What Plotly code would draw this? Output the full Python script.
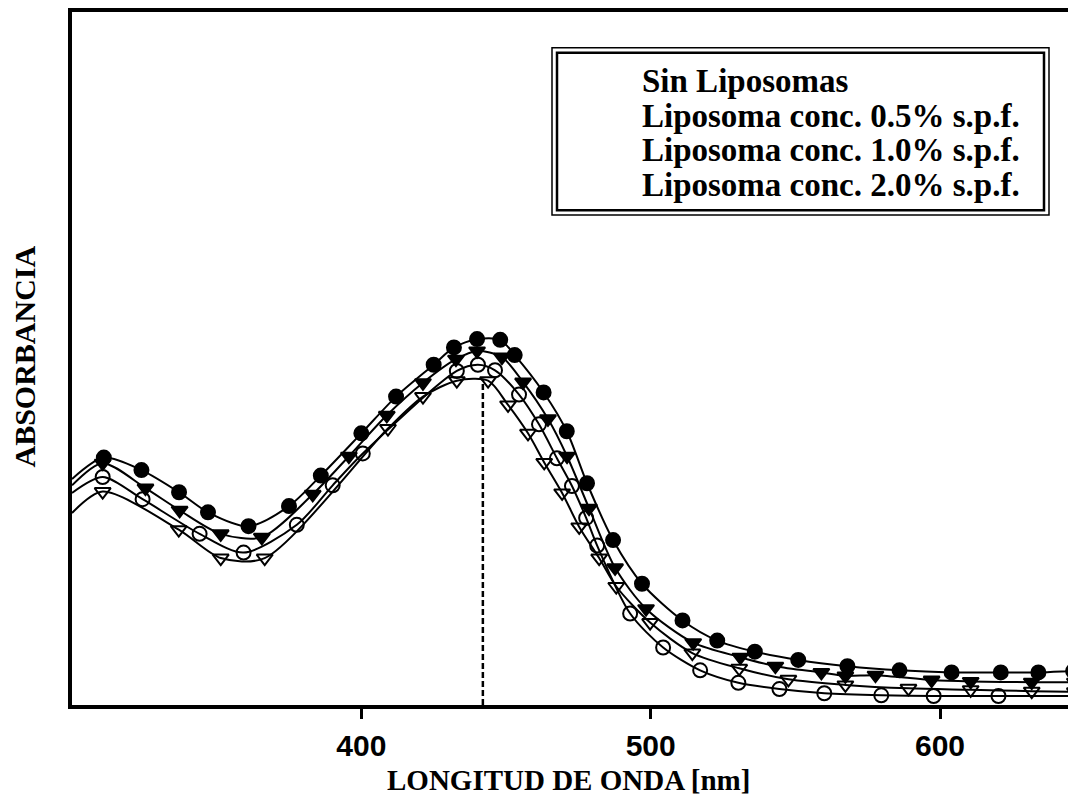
import plotly.graph_objects as go

# ---------------- data ----------------
series_names = [
    "Sin Liposomas",
    "Liposoma conc. 0.5% s.p.f.",
    "Liposoma conc. 1.0% s.p.f.",
    "Liposoma conc. 2.0% s.p.f.",
]

# curve values at the left edge of the plot (300 nm)
start_x = 300
start_y = [0.326, 0.317, 0.306, 0.277]

# Sin Liposomas (filled circles)
x_sin = [311, 324, 337, 347, 361, 375, 386, 400, 412, 425, 432, 440, 448, 453, 463,
         471, 478, 487, 497, 511, 523, 536, 551, 568, 586, 604, 621, 634, 646]
y_sin = [0.357, 0.339, 0.307, 0.278, 0.258, 0.287, 0.331, 0.392, 0.445, 0.491, 0.516,
         0.528, 0.527, 0.505, 0.451, 0.395, 0.320, 0.238, 0.175, 0.122, 0.093, 0.077,
         0.065, 0.056, 0.050, 0.047, 0.047, 0.047, 0.049]

# 0.5 % (filled down-triangles)
x_05 = [310.6, 325.4, 337.2, 351.4, 365.6, 383.2, 395.7, 408.8, 421.3, 432.7, 440.0,
        448.6, 455.9, 464.5, 471.1, 478.7, 487.7, 498.4, 514.7, 531.0, 543.1, 559.0,
        567.3, 577.7, 597.1, 610.6, 631.7, 646.6]
y_05 = [0.349, 0.313, 0.281, 0.247, 0.242, 0.304, 0.359, 0.418, 0.465, 0.499, 0.511,
        0.502, 0.466, 0.413, 0.359, 0.284, 0.198, 0.139, 0.090, 0.069, 0.056, 0.047,
        0.042, 0.043, 0.036, 0.034, 0.033, 0.033]

# 1.0 % (open circles)
x_10 = [310.6, 324.4, 344.1, 359.3, 377.7, 390.1, 400.5, 433.0, 440.3, 446.2, 454.5,
        461.4, 467.6, 472.8, 477.7, 481.5, 492.9, 504.3, 517.1, 530.3, 544.5, 560.0,
        579.7, 597.8, 620.2]
y_10 = [0.329, 0.297, 0.247, 0.220, 0.260, 0.317, 0.363, 0.482, 0.491, 0.483, 0.448,
        0.405, 0.356, 0.316, 0.270, 0.230, 0.132, 0.083, 0.050, 0.032, 0.023, 0.017,
        0.014, 0.013, 0.013]

# 2.0 % (open down-triangles)
x_20 = [310.6, 336.9, 351.4, 366.6, 409.2, 421.3, 433.0, 443.8, 450.7, 457.6, 463.2,
        469.4, 475.3, 482.2, 488.1, 499.8, 514.4, 530.6, 547.6, 567.3, 589.1, 610.6,
        631.7, 646.6]
y_20 = [0.308, 0.253, 0.212, 0.212, 0.399, 0.445, 0.468, 0.468, 0.433, 0.392, 0.350,
        0.306, 0.257, 0.212, 0.171, 0.119, 0.075, 0.053, 0.037, 0.029, 0.024, 0.022,
        0.020, 0.019]

peak_x = 442          # dashed reference line (nm)
peak_y = 0.469

x_ticks = [400, 500, 600]
x_range = [300, 647]
y_range = [0, 1]

x_title = "LONGITUD DE ONDA [nm]"
y_title = "ABSORBANCIA"

# ---------------- styling ----------------
# the page adds an 8 px body margin, so the figure is placed at (8, 8)
OFF = 8
W, H = 1076 - OFF, 810 - OFF
ML, MR, MT, MB = 72 - OFF, 0, 1, 105
PW, PH = W - ML - MR, H - MT - MB


def px_x(p):            # page pixel -> paper x
    return (p - OFF - ML) / PW


def px_y(p):            # page pixel -> paper y
    return (H - MB - (p - OFF)) / PH


symbols = ["circle", "triangle-down", "circle-open", "triangle-down-open"]
xs = [x_sin, x_05, x_10, x_20]
ys = [y_sin, y_05, y_10, y_20]

fig = go.Figure()
for i in range(4):
    fig.add_trace(go.Scatter(
        x=[start_x] + xs[i] + [x_range[1]],
        y=[start_y[i]] + ys[i] + [ys[i][-1]],
        mode="lines",
        line=dict(color="black", width=2, shape="spline", smoothing=0.8),
        showlegend=False, hoverinfo="skip",
    ))
    fig.add_trace(go.Scatter(
        x=xs[i], y=ys[i], mode="markers", name=series_names[i],
        marker=dict(symbol=symbols[i], size=14, color="black",
                    line=dict(color="black", width=2)),
        showlegend=False,
    ))

# dashed vertical line at the absorption maximum
fig.add_trace(go.Scatter(
    x=[peak_x, peak_x], y=[0, peak_y], mode="lines",
    line=dict(color="black", width=2.5, dash="6px,3px"),
    showlegend=False, hoverinfo="skip",
))

serif = "Liberation Serif"

fig.update_layout(
    width=W, height=H,
    margin=dict(l=ML, r=MR, t=MT, b=MB),
    paper_bgcolor="white", plot_bgcolor="white",
    xaxis=dict(
        range=x_range, tickvals=x_ticks, ticktext=[str(t) for t in x_ticks],
        showgrid=False, zeroline=False,
        showline=True, linecolor="black", linewidth=4, mirror=True,
        ticks="outside", ticklen=10, tickwidth=3, tickcolor="black",
        tickfont=dict(family="Liberation Sans", size=30, color="black", weight="bold"),
        ticklabelstandoff=1,
    ),
    yaxis=dict(
        range=y_range, showgrid=False, zeroline=False, showticklabels=False,
        showline=True, linecolor="black", linewidth=4, ticks="",
    ),
)

# legend box (double frame) with the series names as text, like the reference
fig.add_shape(type="rect", xref="paper", yref="paper",
              x0=px_x(552), x1=px_x(1049), y0=px_y(213), y1=px_y(45),
              line=dict(color="black", width=1.5), fillcolor="white", layer="below")
fig.add_shape(type="rect", xref="paper", yref="paper",
              x0=px_x(557), x1=px_x(1044), y0=px_y(208), y1=px_y(50),
              line=dict(color="black", width=2.5))
legend_y = [78, 113, 148, 183]
for name, yy in zip(series_names, legend_y):
    fig.add_annotation(text=name, xref="paper", yref="paper",
                       x=px_x(640), y=px_y(yy), xanchor="left", yanchor="middle",
                       showarrow=False,
                       font=dict(family=serif, size=33, color="black", weight="bold"))

# axis titles
fig.add_annotation(text=x_title, xref="paper", yref="paper",
                   x=px_x(568), y=px_y(780), xanchor="center", yanchor="middle",
                   showarrow=False,
                   font=dict(family=serif, size=29, color="black", weight="bold"))
fig.add_annotation(text=y_title, xref="paper", yref="paper",
                   x=px_x(25), y=px_y(355), xanchor="center", yanchor="middle",
                   textangle=-90, showarrow=False,
                   font=dict(family=serif, size=30, color="black", weight="bold"))

fig.write_html("out.html")
